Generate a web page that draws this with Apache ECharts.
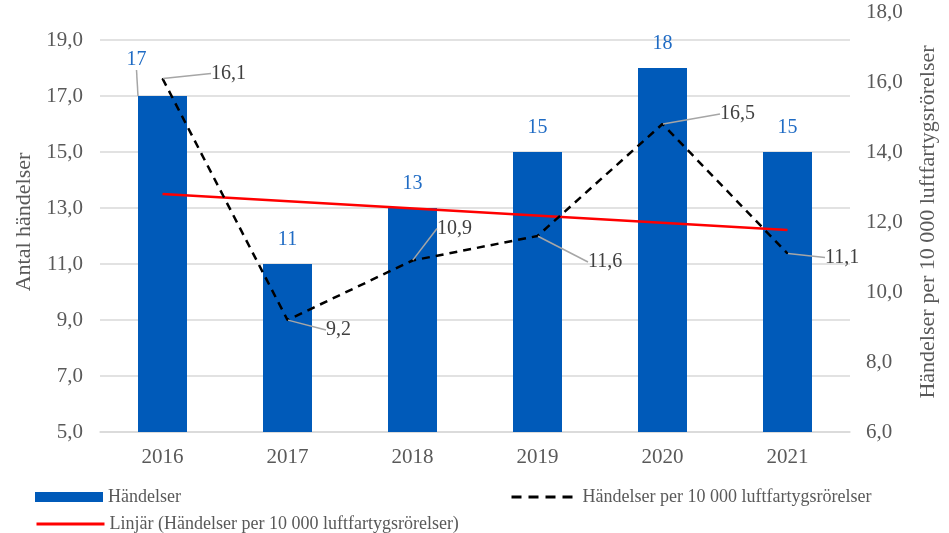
<!DOCTYPE html>
<html>
<head>
<meta charset="utf-8">
<script src="https://cdn.jsdelivr.net/npm/echarts@6/dist/echarts.min.js"></script>
<style>
  html, body { margin: 0; padding: 0; background: #fff; }
  #chart { width: 949px; height: 533px; }
</style>
</head>
<body>
<div id="chart"></div>
<script>
// data
var years = ['2016', '2017', '2018', '2019', '2020', '2021']
var events = [17, 11, 13, 15, 18, 15]
var perMovements = [16.1, 9.2, 10.9, 11.6, 14.8, 11.1]
var perMovementLabels = ['16,1', '9,2', '10,9', '11,6', '16,5', '11,1']
var trendValues = [12.8, null, null, null, null, 11.77]

var FONT = 'Liberation Serif'
var GREY = '#595959'

// offsets of the line labels from their points (px)
var lineLabelOffsets = [[48, -5], [38, 10], [24, -32], [50, 26], [57, -10], [37, 4]]

function comma(v) {
  return v.toFixed(1).replace('.', ',')
}

var chart = echarts.init(document.getElementById('chart'), null, { renderer: 'canvas' })

chart.setOption({
  animation: false,
  textStyle: { fontFamily: FONT },
  grid: { left: 100, right: 99, top: 12, bottom: 101 },
  legend: [
    {
      data: [{ name: 'Händelser', icon: 'rect' }],
      left: 30, top: 483,
      itemWidth: 68, itemHeight: 10,
      textStyle: { fontFamily: FONT, fontSize: 18, color: GREY }
    },
    {
      data: [{
        name: 'Händelser per 10 000 luftfartygsrörelser',
        itemStyle: { opacity: 0 },
        lineStyle: { type: [10, 7], width: 3 }
      }],
      left: 505, top: 483,
      itemWidth: 66, itemHeight: 10,
      textStyle: { fontFamily: FONT, fontSize: 18, color: GREY }
    },
    {
      data: [{
        name: 'Linjär (Händelser per 10 000 luftfartygsrörelser)',
        itemStyle: { opacity: 0 },
        lineStyle: { width: 3 }
      }],
      left: 30, top: 510,
      itemWidth: 68, itemHeight: 10,
      textStyle: { fontFamily: FONT, fontSize: 18, color: GREY }
    }
  ],
  xAxis: {
    type: 'category',
    data: years,
    axisTick: { show: false },
    axisLine: { lineStyle: { color: '#d9d9d9', width: 1.5 } },
    axisLabel: { fontFamily: FONT, fontSize: 21, color: GREY, margin: 15 }
  },
  yAxis: [
    {
      type: 'value',
      min: 5, max: 20, interval: 2,
      name: 'Antal händelser',
      nameLocation: 'middle',
      nameGap: 64,
      nameTextStyle: { fontFamily: FONT, fontSize: 22, color: GREY },
      axisLabel: {
        fontFamily: FONT, fontSize: 21, color: GREY, margin: 17,
        showMaxLabel: false,
        formatter: function(v) { return v === 20 ? '' : comma(v) }
      },
      axisLine: { show: false },
      axisTick: { show: false },
      // no gridline at the top (20), only at 5..19
      splitLine: {
        lineStyle: {
          color: ['#d9d9d9', '#d9d9d9', '#d9d9d9', '#d9d9d9', '#d9d9d9', '#d9d9d9', '#d9d9d9', '#d9d9d9', 'rgba(0,0,0,0)'],
          width: 1.5
        }
      }
    },
    {
      type: 'value',
      min: 6, max: 18, interval: 2,
      name: 'Händelser per 10 000 luftfartygsrörelser',
      nameLocation: 'middle',
      nameGap: 67,
      nameRotate: 90,
      nameTextStyle: { fontFamily: FONT, fontSize: 22, color: GREY },
      axisLabel: {
        fontFamily: FONT, fontSize: 21, color: GREY, margin: 16,
        formatter: comma
      },
      axisLine: { show: false },
      axisTick: { show: false },
      splitLine: { show: false }
    }
  ],
  series: [
    {
      name: 'Händelser',
      type: 'bar',
      yAxisIndex: 0,
      barWidth: 49,
      itemStyle: { color: '#005ab9' },
      data: events.map(function(v, i) {
        return i === 0 ? { value: v, labelLine: { show: true } } : v
      }),
      label: {
        show: true,
        position: 'top',
        distance: 14,
        fontFamily: FONT,
        fontSize: 20,
        color: '#1f6bc4'
      },
      labelLine: { show: false, lineStyle: { color: '#a6a6a6', width: 1.5 } },
      labelLayout: function(p) {
        return p.dataIndex === 0 ? { dx: -26, dy: -12 } : {}
      }
    },
    {
      name: 'Händelser per 10 000 luftfartygsrörelser',
      type: 'line',
      yAxisIndex: 1,
      symbol: 'circle',
      symbolSize: 1,
      showSymbol: true,
      data: perMovements,
      lineStyle: { color: '#000', width: 2.5, type: [8, 6] },
      itemStyle: { color: '#000' },
      label: {
        show: true,
        position: 'right',
        distance: 0,
        fontFamily: FONT,
        fontSize: 20,
        color: '#404040',
        formatter: function(p) { return perMovementLabels[p.dataIndex] }
      },
      labelLine: { show: true, lineStyle: { color: '#a6a6a6', width: 1.5 } },
      labelLayout: function(p) {
        var o = lineLabelOffsets[p.dataIndex]
        return { dx: o[0], dy: o[1] }
      },
      z: 3
    },
    {
      name: 'Linjär (Händelser per 10 000 luftfartygsrörelser)',
      type: 'line',
      yAxisIndex: 1,
      symbol: 'none',
      connectNulls: true,
      data: trendValues,
      lineStyle: { color: '#ff0000', width: 2.5 },
      itemStyle: { color: '#ff0000' },
      z: 2
    }
  ]
})
</script>
</body>
</html>
